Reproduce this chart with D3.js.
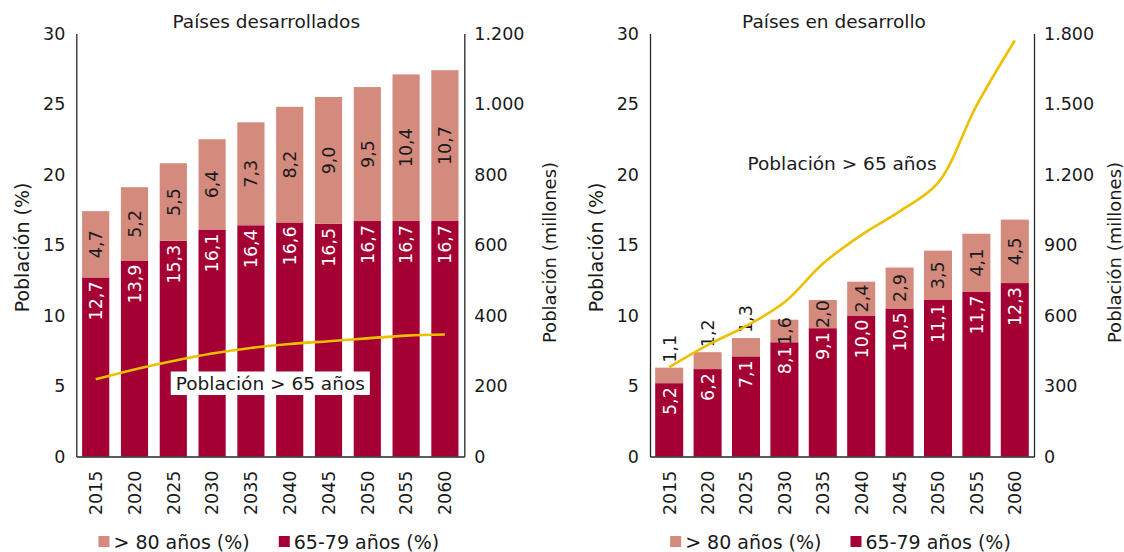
<!DOCTYPE html>
<html lang="es">
<head>
<meta charset="utf-8">
<script src="https://cdn.jsdelivr.net/npm/d3@7"></script>
<style>
  html, body { margin: 0; padding: 0; background: #fff; }
  svg { display: block; font-family: "DejaVu Sans", Verdana, sans-serif; }
  .tick-label { font-size: 17.5px; fill: #1a1a1a; }
  .axis-title { font-size: 18.5px; fill: #1a1a1a; }
  .axis-title.pct { font-size: 19px; }
  .axis-title.mill { font-size: 18px; }
  .chart-title { font-size: 18.5px; fill: #1a1a1a; }
  .bar-label { font-size: 17.5px; }
  .legend-text { font-size: 19px; fill: #1a1a1a; }
</style>
</head>
<body>
<svg id="chart" width="1124" height="552"></svg>
<script>
(function () {
  'use strict';

  // --- data ---
  const years = ['2015', '2020', '2025', '2030', '2035', '2040', '2045', '2050', '2055', '2060'];

  // Países desarrollados
  const devOver80 = [4.7, 5.2, 5.5, 6.4, 7.3, 8.2, 9.0, 9.5, 10.4, 10.7];
  const dev65to79 = [12.7, 13.9, 15.3, 16.1, 16.4, 16.6, 16.5, 16.7, 16.7, 16.7];
  const devPop65 = [219, 247, 271, 292, 308, 319, 327, 335, 343, 346];

  // Países en desarrollo
  const ingOver80 = [1.1, 1.2, 1.3, 1.6, 2.0, 2.4, 2.9, 3.5, 4.1, 4.5];
  const ing65to79 = [5.2, 6.2, 7.1, 8.1, 9.1, 10.0, 10.5, 11.1, 11.7, 12.3];
  const ingPop65 = [380, 474, 555, 656, 820, 942, 1043, 1164, 1492, 1770];

  const legendLabels = ['> 80 años (%)', '65-79 años (%)'];
  const lineLabel = 'Población > 65 años';

  const COLOR_DARK = '#a50034';
  const COLOR_PINK = '#d58a7e';
  const COLOR_LINE = '#ecbf00';
  const AXIS_COLOR = '#262626';

  const es = d3.formatLocale({ decimal: ',', thousands: '.', grouping: [3], currency: ['', ' €'] });
  const fmtPct = es.format('.1f');
  const fmtInt = es.format(',d');

  const svg = d3.select('#chart');

  function drawPanel(cfg) {
    const g = svg.append('g');
    const top = 33.5, bottom = 456.5;

    const x = d3.scaleBand().domain(years).range([cfg.x0, cfg.x1]).paddingInner(cfg.pad).paddingOuter(cfg.pad / 2);
    const y = d3.scaleLinear().domain([0, 30]).range([bottom, top]);
    const y2 = d3.scaleLinear().domain([0, cfg.rightMax]).range([bottom, top]);
    const bw = x.bandwidth();

    const rows = years.map((yr, i) => ({ yr, a: cfg.young[i], b: cfg.old[i], p: cfg.pop[i] }));

    // bars: 65-79 bottom, >80 stacked on top
    g.selectAll('rect.young').data(rows).join('rect')
      .attr('x', d => x(d.yr)).attr('width', bw)
      .attr('y', d => y(d.a)).attr('height', d => y(0) - y(d.a))
      .attr('fill', COLOR_DARK);
    g.selectAll('rect.old').data(rows).join('rect')
      .attr('x', d => x(d.yr)).attr('width', bw)
      .attr('y', d => y(d.a + d.b)).attr('height', d => y(d.a) - y(d.a + d.b))
      .attr('fill', COLOR_PINK);

    // labels on dark segments (inside end)
    g.selectAll('text.lab-young').data(rows).join('text')
      .attr('class', 'bar-label')
      .attr('transform', d => `translate(${x(d.yr) + bw / 2},${y(d.a) + 4}) rotate(-90)`)
      .attr('text-anchor', 'end').attr('dy', '0.36em')
      .attr('fill', '#fff')
      .text(d => fmtPct(d.a));

    // labels on pink segments (centred, or above the bar if segment too thin)
    g.selectAll('text.lab-old').data(rows).join('text')
      .attr('class', 'bar-label')
      .each(function (d) {
        const h = y(d.a) - y(d.a + d.b);
        const cx = x(d.yr) + bw / 2;
        const t = d3.select(this);
        if (h < 20) {
          t.attr('transform', `translate(${cx},${y(d.a + d.b) - 5}) rotate(-90)`).attr('text-anchor', 'start');
        } else {
          t.attr('transform', `translate(${cx},${(y(d.a) + y(d.a + d.b)) / 2}) rotate(-90)`).attr('text-anchor', 'middle');
        }
      })
      .attr('dy', '0.36em')
      .attr('fill', '#1a1a1a')
      .text(d => fmtPct(d.b));

    // line on secondary axis
    const line = d3.line()
      .x(d => x(d.yr) + bw / 2)
      .y(d => y2(d.p))
      .curve(d3.curveCatmullRom.alpha(0.5));
    g.append('path').datum(rows)
      .attr('d', line)
      .attr('fill', 'none')
      .attr('stroke', COLOR_LINE)
      .attr('stroke-width', 2.6)
      .attr('stroke-linejoin', 'round');

    // line label
    const lx = cfg.labelAt === 'mid'
      ? (x('2035') + x('2040') + bw) / 2
      : (cfg.x0 + cfg.x1) / 2;
    const lbl = g.append('g');
    const lt = lbl.append('text')
      .attr('class', 'chart-title')
      .attr('x', lx).attr('y', cfg.labelY)
      .attr('text-anchor', 'middle')
      .text(lineLabel);
    if (cfg.labelBox) {
      const bb = lt.node().getBBox();
      lbl.insert('rect', 'text')
        .attr('x', bb.x - 5).attr('y', cfg.labelY - 18.5)
        .attr('width', bb.width + 10).attr('height', 23.5)
        .attr('fill', '#fff');
    }

    // axes (lines only, no tick marks)
    const axisL = d3.axisLeft(y).tickValues(d3.range(0, 31, 5)).tickSize(0).tickPadding(11).tickFormat(fmtInt);
    const axisR = d3.axisRight(y2).tickValues(d3.range(0, cfg.rightMax + 1, cfg.rightStep)).tickSize(0).tickPadding(10).tickFormat(fmtInt);
    const axisB = d3.axisBottom(x).tickSize(0).tickPadding(0);

    const gl = g.append('g').attr('transform', `translate(${cfg.x0},0)`).call(axisL);
    const gr = g.append('g').attr('transform', `translate(${cfg.x1},0)`).call(axisR);
    const gb = g.append('g').attr('transform', `translate(0,${bottom})`).call(axisB);

    [gl, gr, gb].forEach(a => {
      a.select('.domain').attr('stroke', AXIS_COLOR).attr('stroke-width', 1.3);
      a.selectAll('text').attr('class', 'tick-label').attr('font-family', null).attr('font-size', null).attr('fill', null);
      a.attr('font-family', null).attr('font-size', null);
    });
    gb.selectAll('.tick text')
      .attr('transform', 'translate(0,14) rotate(-90)')
      .attr('text-anchor', 'end')
      .attr('x', 0).attr('y', 0)
      .attr('dy', '0.36em');

    // chart title
    g.append('text').attr('class', 'chart-title')
      .attr('x', (cfg.x0 + cfg.x1) / 2 + cfg.titleDx).attr('y', 27.5)
      .attr('text-anchor', 'middle')
      .text(cfg.title);

    // axis titles
    g.append('text').attr('class', 'axis-title pct')
      .attr('transform', `translate(${cfg.x0 - 47},${247.5}) rotate(-90)`)
      .attr('text-anchor', 'middle')
      .text('Población (%)');
    g.append('text').attr('class', 'axis-title mill')
      .attr('transform', `translate(${cfg.rightTitleX},${252.5}) rotate(-90)`)
      .attr('text-anchor', 'middle')
      .text('Población (millones)');

    // legend, centred below the plot
    const lg = g.append('g');
    const items = [{ label: legendLabels[0], color: COLOR_PINK }, { label: legendLabels[1], color: COLOR_DARK }];
    let cursor = 0;
    items.forEach((it, i) => {
      const ig = lg.append('g').attr('transform', `translate(${cursor},0)`);
      ig.append('rect').attr('x', 0).attr('y', -12.5).attr('width', 11).attr('height', 11).attr('fill', it.color);
      const t = ig.append('text').attr('class', 'legend-text').attr('x', 15).attr('y', 0).text(it.label);
      cursor += 15 + t.node().getComputedTextLength() + (i === 0 ? 29 : 0);
    });
    const cx = (cfg.x0 + cfg.x1) / 2 - 1.5;
    lg.attr('transform', `translate(${cx - cursor / 2},548.5)`);
  }

  drawPanel({
    x0: 76.3, x1: 464.3, pad: 0.3,
    young: dev65to79, old: devOver80, pop: devPop65,
    rightMax: 1200, rightStep: 200,
    title: 'Países desarrollados', titleDx: -4,
    labelAt: 'mid', labelY: 390, labelBox: true,
    rightTitleX: 556
  });

  drawPanel({
    x0: 650, x1: 1034, pad: 0.27,
    young: ing65to79, old: ingOver80, pop: ingPop65,
    rightMax: 1800, rightStep: 300,
    title: 'Países en desarrollo', titleDx: -8,
    labelAt: 'center', labelY: 170, labelBox: false,
    rightTitleX: 1121
  });
})();
</script>
</body>
</html>
